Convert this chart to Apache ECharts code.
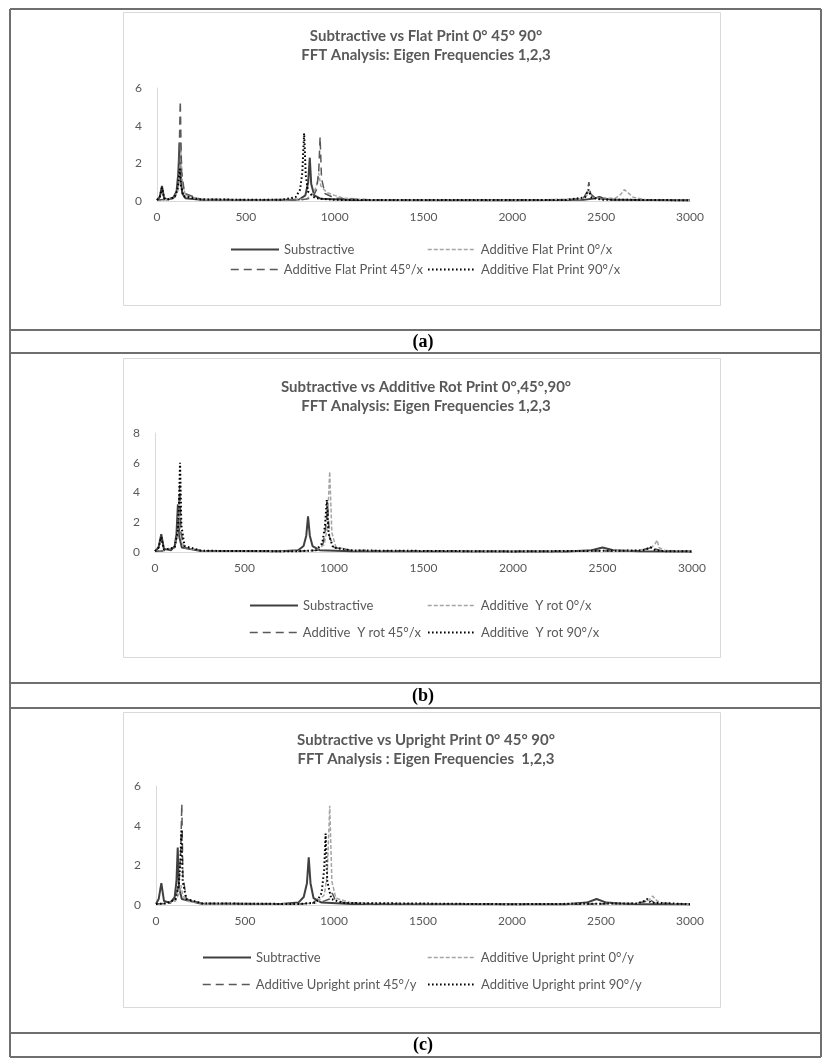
<!DOCTYPE html>
<html><head><meta charset="utf-8">
<script src="https://cdn.jsdelivr.net/npm/echarts@6/dist/echarts.min.js"></script>
<style>html,body{margin:0;padding:0;background:#fff}#c{width:823px;height:1059px}</style>
</head><body><div id="c"></div>
<script>
// ---------- tick labels ----------
const xTicks = [0, 500, 1000, 1500, 2000, 2500, 3000];
const yTicksA = [0, 2, 4, 6];
const yTicksB = [0, 2, 4, 6, 8];
const yTicksC = [0, 2, 4, 6];

// ---------- titles / captions ----------
const titlesA = ["Subtractive vs Flat Print 0° 45° 90°", "FFT Analysis: Eigen Frequencies 1,2,3"];
const titlesB = ["Subtractive vs Additive Rot Print 0°,45°,90°", "FFT Analysis: Eigen Frequencies 1,2,3"];
const titlesC = ["Subtractive vs Upright Print 0° 45° 90°", "FFT Analysis : Eigen Frequencies  1,2,3"];
const captions = ["(a)", "(b)", "(c)"];

// ---------- series names ----------
const namesA = ["Substractive", "Additive Flat Print 0°/x", "Additive Flat Print 45°/x", "Additive Flat Print 90°/x"];
const namesB = ["Substractive", "Additive  Y rot 0°/x", "Additive  Y rot 45°/x", "Additive  Y rot 90°/x"];
const namesC = ["Subtractive", "Additive Upright print 0°/y", "Additive Upright print 45°/y", "Additive Upright print 90°/y"];

// ---------- panel (a) data: frequency (Hz) / amplitude ----------
const freqA_sub = [0, 15, 28, 40, 55, 90, 110, 120, 127, 134, 142, 160, 250, 600, 800, 835, 851, 860, 868, 885, 920, 1100, 2000, 2400, 2470, 2490, 2510, 2560, 3000];
const ampA_sub  = [0.05, 0.2, 0.8, 0.15, 0.08, 0.15, 0.5, 1.5, 3.1, 1.2, 0.4, 0.15, 0.06, 0.05, 0.08, 0.3, 1.0, 2.3, 0.9, 0.3, 0.12, 0.05, 0.04, 0.06, 0.15, 0.22, 0.15, 0.06, 0.04];
const freqA_0 = [0, 50, 100, 120, 128, 135, 142, 160, 250, 700, 840, 880, 898, 910, 922, 955, 1000, 1050, 1200, 2000, 2380, 2420, 2432, 2445, 2480, 2580, 2610, 2630, 2650, 2680, 2750, 3000];
const ampA_0  = [0.05, 0.08, 0.2, 0.6, 1.5, 2.9, 1.0, 0.3, 0.08, 0.05, 0.1, 0.4, 0.8, 1.5, 0.8, 0.45, 0.3, 0.15, 0.06, 0.04, 0.1, 0.3, 0.5, 0.3, 0.15, 0.15, 0.35, 0.6, 0.45, 0.2, 0.07, 0.04];
const freqA_45 = [0, 50, 100, 118, 125, 131, 138, 155, 250, 800, 875, 898, 910, 918, 926, 945, 1000, 1200, 2300, 2400, 2422, 2431, 2440, 2470, 2600, 3000];
const ampA_45  = [0.05, 0.08, 0.2, 0.8, 2.5, 5.3, 1.6, 0.4, 0.08, 0.05, 0.15, 0.6, 1.5, 3.4, 1.2, 0.4, 0.15, 0.06, 0.05, 0.15, 0.5, 1.0, 0.4, 0.12, 0.06, 0.04];
const freqA_90 = [0, 15, 28, 40, 60, 100, 115, 122, 128, 135, 150, 250, 700, 780, 805, 818, 828, 837, 850, 890, 1000, 2300, 2410, 2428, 2445, 2500, 3000];
const ampA_90  = [0.05, 0.2, 0.7, 0.15, 0.08, 0.2, 0.6, 1.1, 1.7, 0.8, 0.25, 0.08, 0.06, 0.2, 0.6, 1.5, 3.6, 1.4, 0.5, 0.15, 0.06, 0.05, 0.2, 0.6, 0.2, 0.07, 0.04];

// ---------- panel (b) data ----------
const freqB_sub = [0, 20, 35, 50, 90, 110, 120, 128, 136, 150, 250, 700, 800, 830, 845, 855, 865, 880, 920, 1100, 2300, 2440, 2500, 2560, 2700, 3000];
const ampB_sub  = [0.05, 0.3, 1.2, 0.2, 0.12, 0.4, 1.2, 3.2, 1.0, 0.3, 0.08, 0.05, 0.12, 0.4, 1.1, 2.4, 1.1, 0.4, 0.12, 0.05, 0.04, 0.12, 0.3, 0.12, 0.05, 0.04];
const freqB_0 = [0, 60, 110, 125, 131, 136, 142, 160, 260, 800, 900, 945, 962, 976, 988, 1010, 1100, 2000, 2700, 2770, 2792, 2805, 2815, 2850, 3000];
const ampB_0  = [0.05, 0.08, 0.3, 1.2, 2.4, 3.6, 1.2, 0.3, 0.08, 0.05, 0.1, 0.5, 1.6, 5.4, 1.3, 0.35, 0.1, 0.04, 0.1, 0.3, 0.5, 0.8, 0.3, 0.1, 0.04];
const freqB_45 = [0, 60, 110, 126, 132, 138, 145, 165, 260, 800, 910, 940, 955, 965, 975, 1000, 1100, 2000, 2700, 2760, 2780, 2795, 2830, 3000];
const ampB_45  = [0.05, 0.08, 0.3, 1.3, 2.8, 4.5, 1.3, 0.3, 0.08, 0.05, 0.12, 0.6, 1.8, 3.0, 1.0, 0.3, 0.1, 0.04, 0.08, 0.25, 0.4, 0.2, 0.08, 0.04];
const freqB_90 = [0, 20, 35, 50, 110, 128, 134, 140, 147, 165, 260, 800, 900, 935, 950, 960, 970, 995, 1100, 2000, 2720, 2770, 2790, 2830, 3000];
const ampB_90  = [0.05, 0.3, 1.0, 0.15, 0.3, 1.5, 3.2, 6.0, 1.8, 0.4, 0.08, 0.05, 0.12, 0.6, 1.8, 3.5, 1.2, 0.3, 0.1, 0.04, 0.1, 0.3, 0.15, 0.06, 0.04];

// ---------- panel (c) data ----------
const freqC_sub = [0, 15, 30, 45, 80, 105, 115, 122, 129, 145, 250, 700, 800, 830, 848, 858, 868, 885, 930, 1100, 2300, 2420, 2475, 2530, 2650, 3000];
const ampC_sub  = [0.05, 0.3, 1.1, 0.2, 0.1, 0.4, 1.2, 2.9, 0.9, 0.3, 0.08, 0.05, 0.12, 0.4, 1.1, 2.4, 1.1, 0.35, 0.12, 0.05, 0.04, 0.12, 0.3, 0.12, 0.05, 0.04];
const freqC_0 = [0, 60, 110, 130, 140, 150, 170, 260, 800, 900, 945, 962, 976, 988, 1010, 1100, 2000, 2700, 2770, 2790, 2800, 2815, 2850, 3000];
const ampC_0  = [0.05, 0.08, 0.2, 0.6, 1.0, 0.5, 0.2, 0.07, 0.05, 0.1, 0.5, 1.5, 5.0, 1.2, 0.35, 0.1, 0.04, 0.08, 0.25, 0.45, 0.5, 0.2, 0.08, 0.04];
const freqC_45 = [0, 60, 110, 130, 139, 145, 151, 170, 260, 800, 880, 907, 930, 975, 990, 1005, 1050, 1200, 2400, 2700, 2760, 2780, 2800, 3000];
const ampC_45  = [0.05, 0.08, 0.3, 1.2, 2.8, 5.1, 1.5, 0.3, 0.08, 0.05, 0.1, 0.3, 0.15, 0.3, 0.6, 0.3, 0.12, 0.05, 0.04, 0.08, 0.2, 0.25, 0.1, 0.04];
const freqC_90 = [0, 60, 110, 128, 137, 143, 150, 170, 260, 800, 900, 930, 945, 953, 962, 985, 1050, 2000, 2700, 2745, 2760, 2780, 3000];
const ampC_90  = [0.05, 0.08, 0.3, 1.0, 2.2, 3.8, 1.2, 0.3, 0.08, 0.05, 0.12, 0.6, 1.8, 3.6, 1.2, 0.3, 0.1, 0.04, 0.08, 0.2, 0.3, 0.12, 0.04];

// ---------- styles ----------
const FONT = 'Lato';
const TXT = '#595959';
const styles = [
  { color: '#404040', width: 2, type: 'solid' },
  { color: '#a5a5a5', width: 1.5, type: [4, 2] },
  { color: '#595959', width: 1.5, type: [8, 5] },
  { color: '#000000', width: 2, type: [1.6, 2.4], cap: 'butt' }
];

// layout per panel
const panels = [
  { titles: titlesA, names: namesA, yTicks: yTicksA, gridLeft: 157, gridRight: 690, gridTop: 88, gridBottom: 201, titleTop: 22,
    box: [123, 12, 720, 305], leg: { col1: 230, col2: 427, row1: 251, row2: 271 },
    data: [[freqA_sub, ampA_sub], [freqA_0, ampA_0], [freqA_45, ampA_45], [freqA_90, ampA_90]] },
  { titles: titlesB, names: namesB, yTicks: yTicksB, gridLeft: 155, gridRight: 692, gridTop: 433, gridBottom: 552, titleTop: 373,
    box: [123, 358, 720, 657], leg: { col1: 249, col2: 427, row1: 607, row2: 634 },
    data: [[freqB_sub, ampB_sub], [freqB_0, ampB_0], [freqB_45, ampB_45], [freqB_90, ampB_90]] },
  { titles: titlesC, names: namesC, yTicks: yTicksC, gridLeft: 156, gridRight: 690, gridTop: 786, gridBottom: 905, titleTop: 726,
    box: [123, 712, 720, 1007], leg: { col1: 202, col2: 427, row1: 959, row2: 986 },
    data: [[freqC_sub, ampC_sub], [freqC_0, ampC_0], [freqC_45, ampC_45], [freqC_90, ampC_90]] }
];

const option = {
  backgroundColor: '#ffffff',
  animation: false,
  title: [], grid: [], xAxis: [], yAxis: [], series: [], legend: [], graphic: []
};

// table borders
const tableLines = [
  [10, 9, 821, 9], [10, 330, 821, 330], [10, 353, 821, 353],
  [10, 683, 821, 683], [10, 708, 821, 708], [10, 1033, 821, 1033], [10, 1057, 821, 1057],
  [10, 9, 10, 1057], [821, 9, 821, 1057]
];
tableLines.forEach(l => option.graphic.push({
  type: 'line', shape: { x1: l[0], y1: l[1], x2: l[2], y2: l[3] },
  style: { stroke: '#6f6f6f', lineWidth: 2 }, silent: true, z: 1
}));
const capY = [342, 696, 1045];
captions.forEach((c, i) => option.graphic.push({
  type: 'text', x: 423, y: capY[i],
  style: { text: c, font: 'bold 18px "Liberation Serif"', fill: '#000', align: 'center', verticalAlign: 'middle' }, z: 2
}));

panels.forEach((p, i) => {
  option.graphic.push({
    type: 'rect', shape: { x: p.box[0] + 0.5, y: p.box[1] + 0.5, width: p.box[2] - p.box[0], height: p.box[3] - p.box[1] },
    style: { fill: 'none', stroke: '#d9d9d9', lineWidth: 1 }, silent: true, z: 0
  });
  option.title.push({
    text: p.titles.join('\n'), left: 421, top: p.titleTop, textAlign: 'center',
    textStyle: { fontFamily: FONT, fontSize: 15, fontWeight: 'bold', color: TXT, lineHeight: 19 }
  });
  option.grid.push({ left: p.gridLeft, top: p.gridTop, width: p.gridRight - p.gridLeft, height: p.gridBottom - p.gridTop, containLabel: false });
  option.xAxis.push({
    type: 'value', gridIndex: i, min: xTicks[0], max: xTicks[xTicks.length - 1], interval: xTicks[1] - xTicks[0],
    axisLine: { show: true, lineStyle: { color: '#d9d9d9', width: 1 } }, axisTick: { show: false }, splitLine: { show: false },
    axisLabel: { color: TXT, fontFamily: FONT, fontSize: 12, margin: 10, formatter: v => String(v) }
  });
  option.yAxis.push({
    type: 'value', gridIndex: i, min: p.yTicks[0], max: p.yTicks[p.yTicks.length - 1], interval: p.yTicks[1] - p.yTicks[0],
    axisLine: { show: true, lineStyle: { color: '#d9d9d9', width: 1 } }, axisTick: { show: false }, splitLine: { show: false },
    axisLabel: { color: TXT, fontFamily: FONT, fontSize: 12, margin: 15, formatter: v => String(v) }
  });
  p.data.forEach((d, k) => {
    option.series.push({
      type: 'line', name: p.names[k], xAxisIndex: i, yAxisIndex: i, symbol: 'none', showSymbol: false,
      lineStyle: Object.assign({}, styles[k]), itemStyle: { color: styles[k].color },
      data: d[0].map((f, j) => [f, d[1][j]]), z: 3 + k
    });
  });
  const legPos = [[p.leg.col1, p.leg.row1], [p.leg.col2, p.leg.row1], [p.leg.col1, p.leg.row2], [p.leg.col2, p.leg.row2]];
  p.names.forEach((n, k) => {
    option.legend.push({
      data: [n], left: legPos[k][0], top: legPos[k][1] - 8, padding: 0, itemWidth: 48, itemHeight: 16, itemGap: 0,
      itemStyle: { opacity: 0 },
      lineStyle: { width: styles[k].width, type: styles[k].type, color: styles[k].color },
      textStyle: { color: TXT, fontFamily: FONT, fontSize: 13, padding: [0, 0, 0, 0] },
      selectedMode: false
    });
  });
});

const chart = echarts.init(document.getElementById('c'), null, { renderer: 'canvas' });
chart.setOption(option);
</script>
</body></html>
